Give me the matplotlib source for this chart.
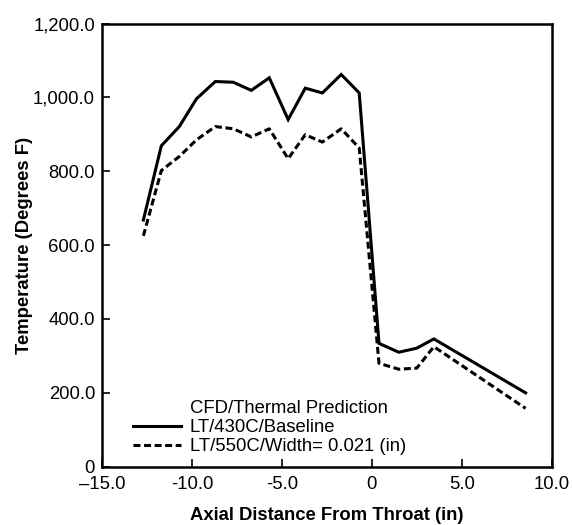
import matplotlib
matplotlib.use("Agg")
import matplotlib.pyplot as plt
from matplotlib.lines import Line2D

# values
axial_in = [-12.7, -11.7, -10.7, -9.75, -8.7, -7.7, -6.7, -5.7, -4.65, -3.7,
            -2.75, -1.7, -0.7, 0.4, 1.5, 2.5, 3.45, 8.55]
temp_baseline = [668, 869, 921, 996, 1043, 1041, 1019, 1053, 940, 1025,
                 1012, 1062, 1012, 334, 310, 321, 346, 200]
temp_width = [625, 802, 840, 885, 921, 915, 893, 915, 834, 899,
              879, 915, 863, 280, 264, 267, 325, 158]

x_ticks = [-15, -10, -5, 0, 5, 10]
x_ticklabels = ["\u201315.0", "-10.0", "-5.0", "0", "5.0", "10.0"]
y_ticks = [0, 200, 400, 600, 800, 1000, 1200]
y_ticklabels = ["0", "200.0", "400.0", "600.0", "800.0", "1,000.0", "1,200.0"]

plt.rcParams["font.family"] = ["Liberation Sans", "DejaVu Sans"]
plt.rcParams["font.size"] = 13.3
plt.rcParams["lines.scale_dashes"] = False

fig = plt.figure(figsize=(5.72, 5.25), dpi=100)
ax = fig.add_axes([0.1783, 0.1110, 0.9645 - 0.1783, 0.9552 - 0.1110])

l1, = ax.plot(axial_in, temp_baseline, color="black", lw=2.2,
              solid_joinstyle="miter", label="LT/430C/Baseline")
l2, = ax.plot(axial_in, temp_width, color="black", lw=2.2,
              dashes=(5, 2.6), label="LT/550C/Width= 0.021 (in)")

ax.set_xlim(-15, 10)
ax.set_ylim(0, 1200)
ax.set_xticks(x_ticks)
ax.set_xticklabels(x_ticklabels)
ax.set_yticks(y_ticks)
ax.set_yticklabels(y_ticklabels)
ax.tick_params(axis="both", direction="in", length=5.5, width=1.2,
               colors="black")
ax.tick_params(axis="x", pad=7)
ax.tick_params(axis="y", pad=5)
for s in ax.spines.values():
    s.set_linewidth(1.8)

ax.set_xlabel("Axial Distance From Throat (in)", fontweight="bold", labelpad=10)
ax.set_ylabel("Temperature (Degrees F)", fontweight="bold", labelpad=0)

# legend title sits over the labels, so use an empty handle for it
blank = Line2D([], [], color="none")
ax.legend([blank, l1, l2],
          ["CFD/Thermal Prediction", l1.get_label(), l2.get_label()],
          loc="lower left", bbox_to_anchor=(0.068, 0.026), frameon=False,
          borderpad=0, borderaxespad=0, handlelength=2.6,
          handletextpad=0.5, labelspacing=0.12, fontsize=13.3)

fig.savefig("out.png", dpi=100)
